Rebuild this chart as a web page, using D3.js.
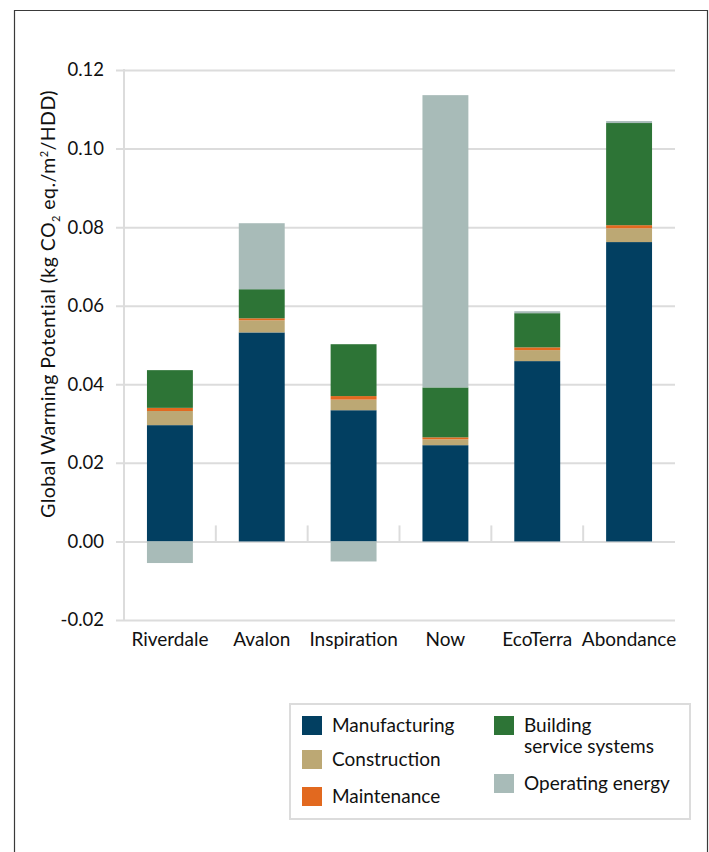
<!DOCTYPE html>
<html>
<head>
<meta charset="utf-8">
<script src="https://cdn.jsdelivr.net/npm/d3@7"></script>
<style>
  html, body { margin: 0; padding: 0; background: #fff; }
  svg { display: block; font-family: Lato, "Open Sans", sans-serif; }
</style>
</head>
<body>
<svg id="chart" width="709" height="852"></svg>
<script>
// Life-cycle global warming potential per house, split by stage
const categories = ["Riverdale", "Avalon", "Inspiration", "Now", "EcoTerra", "Abondance"];
const manufacturing   = [0.0296, 0.0532, 0.0334, 0.0245, 0.0459, 0.0762];
const construction    = [0.0036, 0.0031, 0.0027, 0.0015, 0.0028, 0.0035];
const maintenance     = [0.0008, 0.0005, 0.0009, 0.0005, 0.0007, 0.0008];
const buildingSystems = [0.0096, 0.0074, 0.0132, 0.0127, 0.0087, 0.0260];
const operatingEnergy = [-0.0055, 0.0168, -0.0051, 0.0744, 0.0005, 0.0005];
const yTicks = [-0.02, 0.00, 0.02, 0.04, 0.06, 0.08, 0.10, 0.12];

const seriesKeys = ["manufacturing", "construction", "maintenance", "buildingSystems", "operatingEnergy"];
const seriesColors = {
  manufacturing: "#023f61",
  construction: "#bca874",
  maintenance: "#e2691f",
  buildingSystems: "#2d7436",
  operatingEnergy: "#a8bbb8"
};

const rows = categories.map((c, i) => ({
  name: c,
  manufacturing: manufacturing[i],
  construction: construction[i],
  maintenance: maintenance[i],
  buildingSystems: buildingSystems[i],
  operatingEnergy: operatingEnergy[i]
}));

const svg = d3.select("#chart");
const gridColor = "#dcdcdc";
const textSize = 19;

// outer frame
svg.append("path")
  .attr("d", "M14.5,852 V10.5 H707.5 V852")
  .attr("fill", "none")
  .attr("stroke", "#3a3a3a")
  .attr("stroke-width", 1.2);

const x = d3.scaleBand()
  .domain(categories)
  .range([124, 675])
  .paddingInner(0.5)
  .paddingOuter(0.25);

const y = d3.scaleLinear()
  .domain([-0.02, 0.12])
  .range([620, 70]);

// horizontal gridlines with tick stubs
const fmt = d3.format(".2f");
const yAxis = d3.axisLeft(y)
  .tickValues(yTicks)
  .tickFormat(d => fmt(d).replace("\u2212", "-"))
  .tickSize(-(675 - 116))
  .tickPadding(12);

const gy = svg.append("g")
  .attr("transform", "translate(116,0)")
  .call(yAxis);
gy.select(".domain").remove();
gy.selectAll(".tick line")
  .attr("stroke", gridColor)
  .attr("stroke-width", 2);
gy.selectAll(".tick text")
  .attr("fill", "#111")
  .attr("font-size", 18.5)
  .attr("font-family", "Lato, sans-serif");

// vertical axis line
svg.append("line")
  .attr("x1", 124).attr("x2", 124)
  .attr("y1", y(0.12) - 1).attr("y2", y(-0.02) + 1)
  .attr("stroke", gridColor)
  .attr("stroke-width", 2);

// category separators rising from the zero line
const step = x.step();
svg.append("g")
  .selectAll("line")
  .data(categories.slice(0, -1))
  .join("line")
  .attr("x1", d => x(d) + x.bandwidth() + (step - x.bandwidth()) / 2)
  .attr("x2", d => x(d) + x.bandwidth() + (step - x.bandwidth()) / 2)
  .attr("y1", y(0))
  .attr("y2", y(0) - 16)
  .attr("stroke", gridColor)
  .attr("stroke-width", 2);

// stacked bars, negatives stacked below zero
const stack = d3.stack()
  .keys(seriesKeys)
  .offset(d3.stackOffsetDiverging);
const stacked = stack(rows);

svg.append("g")
  .selectAll("g")
  .data(stacked)
  .join("g")
  .attr("fill", s => seriesColors[s.key])
  .selectAll("rect")
  .data(s => s)
  .join("rect")
  .attr("x", d => x(d.data.name))
  .attr("width", x.bandwidth())
  .attr("y", d => y(Math.max(d[0], d[1])))
  .attr("height", d => Math.abs(y(d[0]) - y(d[1])));

// category labels
const xAxis = d3.axisBottom(x).tickSize(0).tickPadding(0);
const gx = svg.append("g")
  .attr("transform", "translate(0,628)")
  .call(xAxis);
gx.select(".domain").remove();
gx.selectAll(".tick text")
  .attr("dy", "0.95em")
  .attr("fill", "#111")
  .attr("font-size", textSize)
  .attr("font-family", "Lato, sans-serif");

// y-axis title
const title = svg.append("text")
  .attr("transform", "translate(55,304) rotate(-90)")
  .attr("text-anchor", "middle")
  .attr("fill", "#111")
  .attr("font-size", 19.5)
  .attr("letter-spacing", 0.45);
title.append("tspan").text("Global Warming Potential (kg CO");
title.append("tspan").attr("font-size", 11).attr("dy", 5).text("2");
title.append("tspan").attr("dy", -5).text(" eq./m");
title.append("tspan").attr("font-size", 11).attr("dy", -7).text("2");
title.append("tspan").attr("dy", 7).text("/HDD)");

// legend
const legend = svg.append("g");
legend.append("rect")
  .attr("x", 290).attr("y", 704)
  .attr("width", 400).attr("height", 115)
  .attr("fill", "#fff")
  .attr("stroke", gridColor)
  .attr("stroke-width", 2);

const legendItems = [
  { key: "manufacturing", lines: ["Manufacturing"], x: 302, y: 716 },
  { key: "construction", lines: ["Construction"], x: 302, y: 750 },
  { key: "maintenance", lines: ["Maintenance"], x: 302, y: 787 },
  { key: "buildingSystems", lines: ["Building", "service systems"], x: 494, y: 716 },
  { key: "operatingEnergy", lines: ["Operating energy"], x: 494, y: 774 }
];

const li = legend.selectAll("g.item")
  .data(legendItems)
  .join("g")
  .attr("class", "item")
  .attr("transform", d => `translate(${d.x},${d.y})`);
li.append("rect")
  .attr("width", 20).attr("height", 19)
  .attr("fill", d => seriesColors[d.key]);
li.append("text")
  .attr("x", 30)
  .attr("y", 16)
  .attr("fill", "#111")
  .attr("font-size", textSize)
  .selectAll("tspan")
  .data(d => d.lines)
  .join("tspan")
  .attr("x", 30)
  .attr("dy", (d, i) => i === 0 ? 0 : 21)
  .text(d => d);
</script>
</body>
</html>
